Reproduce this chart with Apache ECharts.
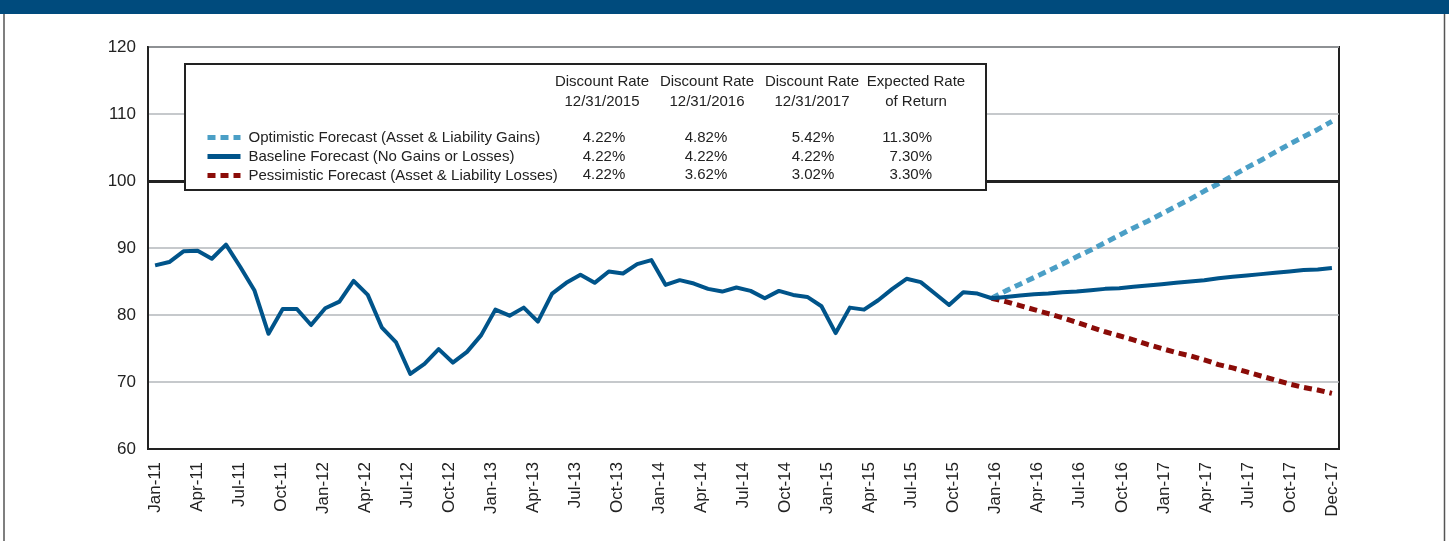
<!DOCTYPE html>
<html>
<head>
<meta charset="utf-8">
<script src="https://cdn.jsdelivr.net/npm/echarts@6/dist/echarts.min.js"></script>
<style>
  html, body { margin: 0; padding: 0; background: #fff; }
  #chart { width: 1449px; height: 541px; }
</style>
</head>
<body>
<div id="chart"></div>
<script>
const months = [
  'Jan-11', 'Feb-11', 'Mar-11', 'Apr-11', 'May-11', 'Jun-11', 'Jul-11', 'Aug-11', 'Sep-11', 'Oct-11', 'Nov-11', 'Dec-11',
  'Jan-12', 'Feb-12', 'Mar-12', 'Apr-12', 'May-12', 'Jun-12', 'Jul-12', 'Aug-12', 'Sep-12', 'Oct-12', 'Nov-12', 'Dec-12',
  'Jan-13', 'Feb-13', 'Mar-13', 'Apr-13', 'May-13', 'Jun-13', 'Jul-13', 'Aug-13', 'Sep-13', 'Oct-13', 'Nov-13', 'Dec-13',
  'Jan-14', 'Feb-14', 'Mar-14', 'Apr-14', 'May-14', 'Jun-14', 'Jul-14', 'Aug-14', 'Sep-14', 'Oct-14', 'Nov-14', 'Dec-14',
  'Jan-15', 'Feb-15', 'Mar-15', 'Apr-15', 'May-15', 'Jun-15', 'Jul-15', 'Aug-15', 'Sep-15', 'Oct-15', 'Nov-15', 'Dec-15',
  'Jan-16', 'Feb-16', 'Mar-16', 'Apr-16', 'May-16', 'Jun-16', 'Jul-16', 'Aug-16', 'Sep-16', 'Oct-16', 'Nov-16', 'Dec-16',
  'Jan-17', 'Feb-17', 'Mar-17', 'Apr-17', 'May-17', 'Jun-17', 'Jul-17', 'Aug-17', 'Sep-17', 'Oct-17', 'Nov-17', 'Dec-17'
]

// quarterly tick labels along the bottom
const tickLabels = [
  'Jan-11', 'Apr-11', 'Jul-11', 'Oct-11', 'Jan-12', 'Apr-12', 'Jul-12', 'Oct-12',
  'Jan-13', 'Apr-13', 'Jul-13', 'Oct-13', 'Jan-14', 'Apr-14', 'Jul-14', 'Oct-14',
  'Jan-15', 'Apr-15', 'Jul-15', 'Oct-15', 'Jan-16', 'Apr-16', 'Jul-16', 'Oct-16',
  'Jan-17', 'Apr-17', 'Jul-17', 'Oct-17', 'Dec-17'
]

// Jan-11 .. Dec-15
const history = [
  87.4, 87.9, 89.5, 89.6, 88.4, 90.5, 87.2, 83.7, 77.2, 80.9, 80.9, 78.5,
  81.0, 82.0, 85.1, 83.0, 78.1, 75.9, 71.2, 72.7, 74.9, 72.9, 74.5, 77.0,
  80.8, 79.9, 81.1, 79.0, 83.2, 84.8, 86.0, 84.8, 86.5, 86.2, 87.6, 88.2,
  84.5, 85.2, 84.7, 83.9, 83.5, 84.1, 83.6, 82.5, 83.6, 83.0, 82.7, 81.3,
  77.3, 81.1, 80.8, 82.2, 83.9, 85.4, 84.9, 83.2, 81.5, 83.4, 83.2, 82.5
]

// Dec-15 .. Dec-17
const baselineForecast = [
  82.5, 82.7, 82.9, 83.1, 83.2, 83.4, 83.5, 83.7, 83.9, 84.0, 84.2, 84.4, 84.6,
  84.8, 85.0, 85.2, 85.5, 85.7, 85.9, 86.1, 86.3, 86.5, 86.7, 86.8, 87.0
]
const optimisticForecast = [
  82.5, 83.6, 84.6, 85.6, 86.6, 87.6, 88.7, 89.7, 90.8, 91.9, 93.0, 94.0, 95.1,
  96.2, 97.3, 98.5, 99.6, 100.8, 102.0, 103.1, 104.3, 105.5, 106.6, 107.7, 108.9
]
const pessimisticForecast = [
  82.5, 82.0, 81.4, 80.8, 80.2, 79.6, 78.9, 78.2, 77.5, 76.9, 76.3, 75.6, 75.0,
  74.4, 73.9, 73.3, 72.6, 72.1, 71.5, 70.9, 70.3, 69.7, 69.2, 68.8, 68.3
]

const seriesNames = [
  'Optimistic Forecast (Asset & Liability Gains)',
  'Baseline Forecast (No Gains or Losses)',
  'Pessimistic Forecast (Asset & Liability Losses)'
]
const tableHeaders = ['Discount Rate\n12/31/2015', 'Discount Rate\n12/31/2016', 'Discount Rate\n12/31/2017', 'Expected Rate\nof Return']
const tableRows = [
  ['4.22%', '4.82%', '5.42%', '11.30%'],
  ['4.22%', '4.22%', '4.22%', '7.30%'],
  ['4.22%', '3.62%', '3.02%', '3.30%']
]

const FONT = "'Liberation Sans', Arial, Helvetica, sans-serif"
const pad = new Array(history.length - 1).fill(null)

// the printed labels sit on a slightly tighter grid than the data (one extra slot at the end)
const labelSlots = new Array(tickLabels.length * 3 - 2).fill('')
tickLabels.forEach((t, k) => { labelSlots[k === tickLabels.length - 1 ? labelSlots.length - 1 : k * 3] = t })

const chart = echarts.init(document.getElementById('chart'))

// table inside the legend box
const headerX = [602, 707, 812, 916]
const valueX = [604, 706, 813, 932]
const rowY = [138, 157, 175]
const tableText = []
tableHeaders.forEach((h, i) => {
  tableText.push({
    type: 'text', z: 60, x: headerX[i], y: 72,
    style: { text: h, font: '15px ' + FONT, fill: '#222', align: 'center', verticalAlign: 'top', lineHeight: 20 }
  })
})
tableRows.forEach((row, r) => {
  row.forEach((v, i) => {
    tableText.push({
      type: 'text', z: 60, x: valueX[i], y: rowY[r],
      style: { text: v, font: '15px ' + FONT, fill: '#222', align: i === 3 ? 'right' : 'center', verticalAlign: 'middle' }
    })
  })
})

const option = {
  animation: false,
  backgroundColor: '#fff',
  graphic: [
    { type: 'rect', z: 0, shape: { x: 0, y: 0, width: 1449, height: 14 }, style: { fill: '#004b7d' } },
    { type: 'line', z: 0, shape: { x1: 4, y1: 14, x2: 4, y2: 541 }, style: { stroke: '#555', lineWidth: 1.5 } },
    { type: 'line', z: 0, shape: { x1: 1444.5, y1: 14, x2: 1444.5, y2: 541 }, style: { stroke: '#555', lineWidth: 1.5 } },
    { type: 'rect', z: 50, shape: { x: 185, y: 64, width: 801, height: 126 }, style: { fill: '#fff', stroke: '#222', lineWidth: 2 } },
    ...tableText
  ],
  legend: {
    z: 60,
    orient: 'vertical',
    left: 205,
    top: 130,
    padding: 0,
    itemWidth: 33,
    itemHeight: 12,
    itemGap: 4,
    data: seriesNames,
    itemStyle: { opacity: 0 },
    lineStyle: { width: 5 },
    textStyle: { fontFamily: FONT, fontSize: 15, color: '#222', padding: [0, 0, 0, 3] }
  },
  grid: {
    left: 148, right: 110, top: 47, bottom: 92,
    show: true, borderColor: '#222', borderWidth: 2
  },
  xAxis: [
    {
      type: 'category',
      data: months,
      boundaryGap: true,
      axisLine: { lineStyle: { color: '#222', width: 2 } },
      axisTick: { show: false },
      axisLabel: { show: false }
    },
    {
      type: 'category',
      position: 'bottom',
      data: labelSlots,
      boundaryGap: true,
      axisLine: { show: false },
      axisTick: { show: false },
      splitLine: { show: false },
      axisLabel: {
        rotate: 90,
        margin: 13,
        fontFamily: FONT,
        fontSize: 17,
        color: '#222',
        interval: (i, v) => v !== ''
      }
    }
  ],
  yAxis: {
    type: 'value',
    min: 60,
    max: 120,
    interval: 10,
    axisLine: { show: true, lineStyle: { color: '#222', width: 2 } },
    axisTick: { show: false },
    axisLabel: { margin: 12, fontFamily: FONT, fontSize: 17, color: '#222' },
    splitLine: { lineStyle: { color: '#b3b7bb', width: 1.5 } }
  },
  series: [
    {
      name: seriesNames[0],
      type: 'line',
      z: 3,
      data: pad.concat(optimisticForecast),
      symbol: 'none',
      lineStyle: { color: '#4b9fc6', width: 5, type: [8, 5], cap: 'butt' },
      itemStyle: { color: '#4b9fc6' }
    },
    {
      name: seriesNames[1],
      type: 'line',
      z: 4,
      data: history.concat(baselineForecast.slice(1)),
      symbol: 'none',
      lineStyle: { color: '#00548a', width: 4, join: 'round' },
      itemStyle: { color: '#00548a' },
      markLine: {
        silent: true,
        symbol: 'none',
        label: { show: false },
        lineStyle: { color: '#222', width: 3, type: 'solid' },
        data: [{ yAxis: 100 }]
      }
    },
    {
      name: seriesNames[2],
      type: 'line',
      z: 3,
      data: pad.concat(pessimisticForecast),
      symbol: 'none',
      lineStyle: { color: '#8b0c08', width: 5, type: [8, 5], cap: 'butt' },
      itemStyle: { color: '#8b0c08' }
    }
  ]
}

chart.setOption(option)
</script>
</body>
</html>
